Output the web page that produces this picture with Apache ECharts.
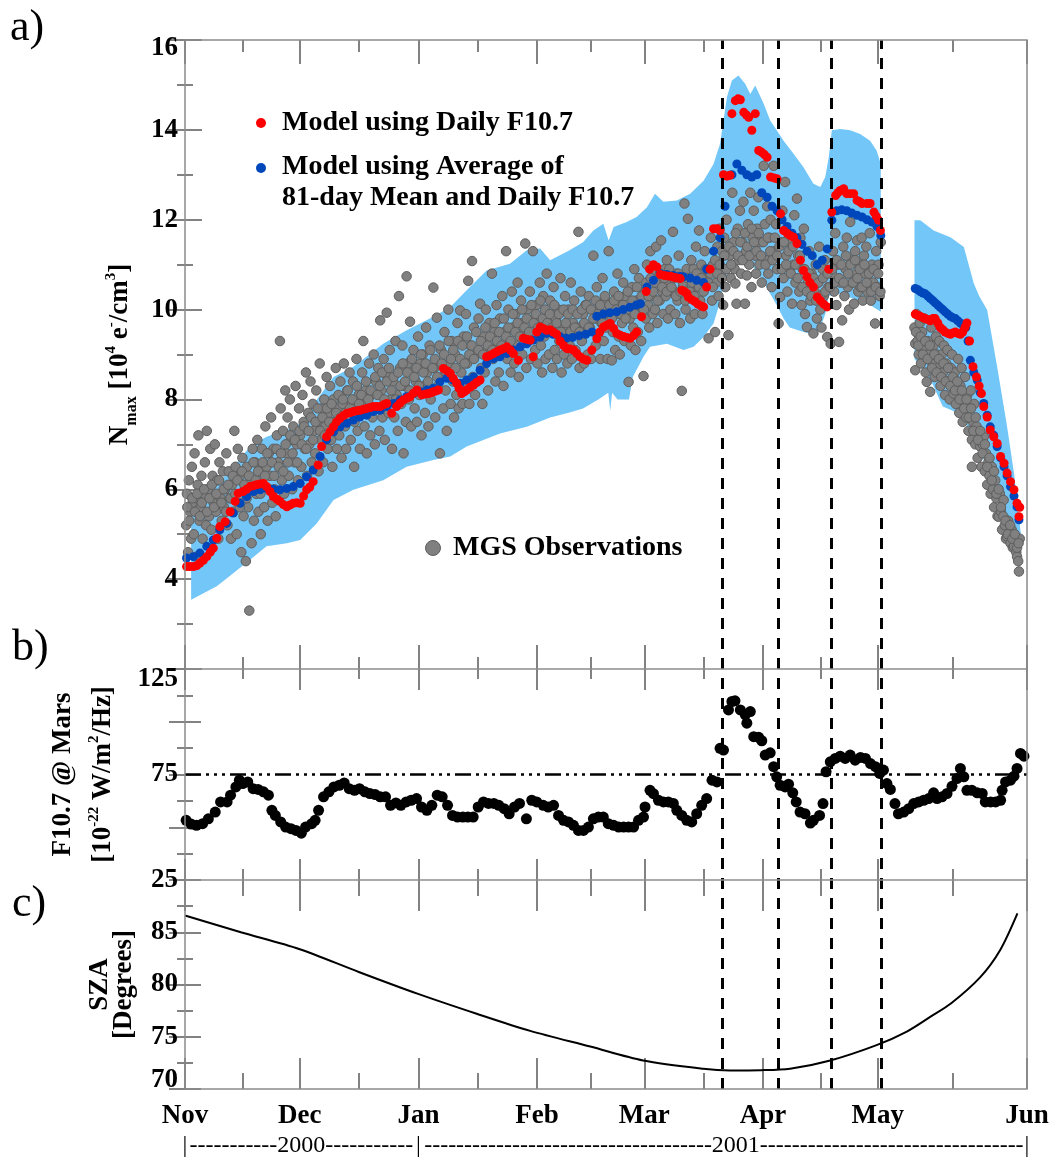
<!DOCTYPE html>
<html><head><meta charset="utf-8">
<script src="https://cdn.jsdelivr.net/npm/echarts@6/dist/echarts.min.js"></script>
<style>html,body{margin:0;padding:0;background:#fff}#c{width:1054px;height:1160px}</style>
</head><body><div id="c"></div>
<script>
// ---------------- DATA (x = days since 2000-11-01) ----------------
const xMax = 220;
const monthNames = ['Nov','Dec','Jan','Feb','Mar','Apr','May','Jun'];
const monthDays = [0,30,61,92,120,151,181,220];
const eventDays = [140.4,155.0,168.9,181.9];
const yearBarDays = [0,30.4,61,140.8,220];
const yearBarText = ['|','-----------2000-----------','|','------------------------------------2001---------------------------------','|'];
const f107Ref = 75;

const bandUpper1 = [[1.6,5.7],[5,5.9],[8.3,6.1],[12.6,6.5],[17,6.95],[21.3,7.17],[26.6,7.32],[30.1,7.47],[34.4,7.99],[38.8,8.5],[44,8.73],[51.8,9.24],[57.9,9.54],[64.9,9.84],[69.3,10.06],[73.6,10.43],[78.8,10.87],[84.9,11.02],[89.3,11.32],[92.8,11.36],[95.4,11.1],[100,11.3],[104,11.5],[106.7,11.76],[109.3,11.91],[110.7,11.54],[112,11.84],[115.4,11.95],[118,12.06],[120.7,12.28],[122.8,12.58],[125,12.4],[128.5,12.43],[132,12.58],[135.5,12.87],[138.1,13.24],[139.8,13.69],[141.6,14.73],[142.9,15.1],[144.6,15.21],[146.4,15.02],[147.7,14.8],[149,14.99],[151.2,14.58],[152.9,14.21],[154.6,13.99],[156.4,13.76],[159,13.47],[161.6,13.17],[164.2,12.8],[166,12.73],[167.3,12.95],[168.2,13.39],[169,13.99],[171.2,14.02],[173.8,13.99],[176.4,13.91],[179,13.76],[180.7,13.54],[181.8,13.24]];
const bandLower1 = [[1.6,3.54],[8.3,3.84],[12.6,4.13],[17,4.43],[21.3,4.73],[26.6,4.8],[30.1,4.87],[34.4,5.24],[38.8,5.76],[44,5.99],[51.8,6.2],[57.9,6.5],[64.9,6.65],[69.3,6.73],[73.6,6.95],[82.3,7.24],[89.3,7.39],[95.4,7.6],[100,7.7],[104,7.8],[108,8.0],[110.6,8.15],[111.1,7.75],[111.6,8.15],[113,8.0],[116,8.0],[117,8.5],[119.8,8.95],[121.5,9.17],[125.9,9.24],[130.3,9.1],[132.9,9.17],[135.5,9.39],[138.1,9.69],[139.4,10.06],[141,10.6],[142.9,11.1],[144.6,11.2],[146.4,11.15],[147.7,11.0],[149,10.9],[151.2,10.6],[154.6,10.1],[156.4,9.8],[158,9.6],[161.6,9.5],[164.2,9.45],[166,9.6],[167.3,9.9],[168.2,10.3],[171,10.35],[176,10.2],[179,10.1],[181.8,9.95]];
const bandUpper2 = [[190.6,11.99],[192.1,11.99],[195.6,11.76],[200,11.61],[203.5,11.39],[206.1,10.58],[207.5,10.3],[209.6,9.99],[212.2,8.73],[214.8,7.39],[216.6,6.36],[217.9,5.39],[218.4,5.0]];
const bandLower2 = [[190.6,8.9],[195,8.4],[198,7.84],[202,7.7],[204.5,7.39],[208.7,6.65],[212.2,5.91],[214.8,5.39],[216.6,5.02],[217.9,4.9],[218.4,5.0]];

const blueModel = [[0.4,4.47],[2.2,4.5],[3.9,4.58],[5.7,4.73],[7.4,4.87],[9.1,5.1],[10.9,5.24],[12.6,5.47],[14.4,5.69],[16.1,5.84],[17.9,5.95],[19.6,5.99],[21.3,6.02],[23.1,6.0],[24.8,5.99],[26.6,6.02],[28.3,6.06],[30.1,6.13],[31.8,6.28],[33.5,6.43],[35.3,6.73],[37,7.1],[38.8,7.28],[40.5,7.39],[42.3,7.47],[44,7.54],[45.7,7.61],[47.5,7.65],[49.2,7.73],[51,7.76],[52.7,7.84],[54.5,7.91],[56.2,7.99],[57.9,8.06],[59.7,8.13],[61.4,8.17],[63.2,8.21],[64.9,8.25],[66.6,8.39],[68.4,8.47],[70.1,8.43],[71.9,8.36],[73.6,8.43],[75.4,8.5],[77.1,8.65],[78.8,8.8],[80.6,8.91],[82.3,8.95],[84.1,9.02],[85.8,9.1],[87.6,9.17],[89.3,9.24],[91,9.32],[92.8,9.39],[94.5,9.47],[96.2,9.45],[97.9,9.4],[99.6,9.36],[101.3,9.38],[103,9.42],[104.7,9.45],[106.4,9.5],[107.6,9.85],[109.3,9.9],[111,9.93],[112.8,9.95],[114.5,10.0],[116.2,10.05],[117.9,10.1],[119,10.13],[120.7,10.5],[122.4,10.65],[124.2,10.8],[125.9,10.78],[127.6,10.76],[129.3,10.74],[130.2,10.73],[132,10.7],[133.7,10.65],[135.5,10.6],[136.3,10.9],[138.1,11.3],[139.8,11.6],[141.1,12.3],[142.9,13.0],[144.2,13.24],[145.5,13.1],[146.8,13.0],[148.1,12.95],[149.4,13.0],[150.7,12.6],[152.1,12.5],[153.4,12.3],[154.7,12.2],[156,12.0],[157.3,11.85],[158.6,11.7],[159.9,11.6],[161.2,11.45],[162.5,11.3],[163.9,11.2],[165.2,11.0],[166.5,11.1],[167.8,11.35],[169,11.99],[170.3,12.2],[171.6,12.22],[172.9,12.2],[174.2,12.15],[175.6,12.1],[176.9,12.06],[178.2,12.0],[179.5,11.95],[180.8,11.85],[181.8,11.65],
[190.8,10.47],[191.5,10.44],[192.1,10.4],[192.8,10.37],[193.4,10.35],[194.1,10.3],[194.7,10.25],[195.4,10.2],[196,10.15],[196.7,10.1],[197.3,10.05],[198,10.0],[198.6,9.95],[199.3,9.9],[200,9.85],[200.6,9.82],[201.3,9.8],[201.9,9.75],[202.6,9.7],[203.3,9.65],[204,9.6],[204.6,9.3],[205.2,8.87],[206.1,8.6],[207,8.43],[207.8,8.15],[208.7,7.91],[209.6,7.65],[210.4,7.39],[211.3,7.2],[212.2,6.95],[213.1,6.7],[214,6.5],[214.8,6.3],[215.7,6.06],[216.6,5.85],[217.4,5.61],[217.9,5.32]];

const redModel = [[0.4,4.28],[1.3,4.28],[2.2,4.28],[3.1,4.3],[3.9,4.36],[4.8,4.42],[5.7,4.5],[6.6,4.6],[7.4,4.69],[8.3,4.91],[9.1,5.17],[10.5,5.28],[11.8,5.5],[13.1,5.73],[13.9,5.91],[15.2,5.95],[16.1,6.0],[17,6.06],[17.9,6.08],[18.7,6.1],[19.6,6.12],[20.5,6.13],[21.3,6.06],[22.2,5.95],[23.1,5.84],[24,5.78],[24.8,5.73],[25.7,5.66],[26.6,5.61],[27.4,5.65],[28.3,5.69],[29.2,5.7],[30.1,5.69],[31,5.85],[31.8,5.99],[32.6,6.05],[33.5,6.17],[34.8,6.54],[35.7,6.95],[37,7.17],[37.9,7.28],[38.8,7.39],[39.6,7.5],[40.5,7.58],[41.4,7.64],[42.3,7.69],[43.2,7.71],[44,7.73],[44.9,7.75],[45.7,7.76],[46.6,7.78],[47.5,7.8],[48.4,7.82],[49.2,7.84],[50.1,7.84],[51,7.84],[51.9,7.88],[52.7,7.91],[54,7.69],[55.3,7.84],[56.2,7.92],[57.1,7.99],[58,8.03],[58.8,8.06],[59.7,8.14],[60.6,8.21],[61.9,8.1],[62.8,8.12],[63.6,8.13],[64.3,8.15],[64.9,8.17],[65.6,8.19],[66.2,8.21],[67.5,8.69],[68.4,8.64],[69.3,8.58],[70.1,8.47],[71,8.36],[71.6,8.25],[72.3,8.13],[73,8.17],[73.6,8.21],[74.5,8.27],[75.4,8.32],[76.2,8.38],[77.1,8.43],[78.8,8.95],[79.7,8.98],[80.6,9.02],[81.5,9.06],[82.3,9.1],[83.2,9.13],[84.1,9.17],[85,9.1],[85.8,9.02],[87.1,8.87],[88.4,9.36],[89.3,9.34],[90.2,9.32],[91,8.95],[91.9,9.5],[92.8,9.61],[93.6,9.58],[94.5,9.54],[95.4,9.55],[96.2,9.5],[97.1,9.45],[98,9.3],[98.9,9.2],[99.8,9.13],[100.6,9.12],[101.5,9.1],[102.4,9.02],[103.2,8.95],[104.1,8.9],[105,8.87],[106.3,9.1],[107.6,9.35],[108.4,9.5],[109.3,9.61],[110.2,9.65],[111.1,9.69],[112,9.58],[112.8,9.47],[113.7,9.43],[114.6,9.4],[115.4,9.38],[116.3,9.36],[117.2,9.42],[118,9.5],[119.3,9.84],[120.5,10.4],[121.4,10.9],[122.4,11.0],[123.3,10.95],[124.2,10.78],[125.1,10.76],[126,10.75],[126.9,10.74],[127.7,10.72],[128.6,10.7],[129.4,10.69],[129.8,10.43],[130.5,10.4],[131.1,10.36],[131.5,10.28],[132.4,10.22],[133.2,10.18],[134,10.12],[134.9,10.08],[135.5,10.06],[136.3,10.5],[137.2,10.9],[138.1,11.8],[139,11.8],[139.8,11.76],[140.7,13.0],[141.6,12.97],[142.4,12.99],[142.9,14.36],[143.8,14.65],[144.5,14.69],[145.1,14.67],[146,14.39],[146.7,14.33],[147.3,14.28],[148.1,13.99],[149,14.36],[149.9,13.54],[150.7,13.5],[151.4,13.45],[152.1,13.39],[153,12.95],[153.9,12.93],[154.7,12.91],[155.6,12.13],[156.4,11.76],[157.3,11.7],[158.1,11.65],[159,11.61],[159.9,11.47],[160.8,11.1],[161.6,10.87],[162.5,10.73],[163.3,10.6],[164.2,10.5],[165.2,10.28],[166,10.2],[166.9,10.12],[167.8,10.06],[168.2,10.9],[169,12.17],[170,12.54],[170.6,12.6],[171.2,12.65],[172.1,12.69],[172.9,12.58],[173.8,12.58],[174.7,12.58],[175.6,12.43],[176.3,12.4],[176.9,12.36],[178.2,12.36],[179,12.36],[180,12.17],[180.6,12.08],[181.2,11.99],[181.7,11.76],
[190.8,9.9],[191.5,9.87],[192.1,9.85],[192.8,9.82],[193.4,9.8],[194.1,9.78],[194.7,9.75],[195.4,9.8],[196,9.8],[196.7,9.7],[197.3,9.6],[198,9.55],[198.6,9.5],[199.3,9.47],[200,9.45],[200.6,9.48],[201.3,9.5],[201.9,9.47],[202.6,9.45],[203.2,9.5],[203.8,9.6],[204.3,9.7],[205,9.3],[205.9,8.73],[206.8,8.5],[207.5,8.3],[208.1,8.13],[208.7,7.84],[209.6,7.61],[210.4,7.32],[211.3,7.17],[212.2,7.02],[213.1,6.73],[214,6.58],[214.8,6.36],[215.7,6.17],[216.6,5.99],[217.4,5.69],[217.9,5.39],[218.1,5.6]];

// MGS observations, group 1 (scattered passes)
const mgsObsA = [
[0.3,5.2],[0.5,5.9],[0.8,4.6],[1,6.2],[1.3,5.5],[1.6,4.9],[1.8,6.5],[2,5.7],[2.3,5.0],[2.5,6.8],[2.8,5.8],[3,4.5],[3.3,6.1],[3.5,7.2],[3.8,5.3],
[4.1,5.6],[4.3,6.3],[4.6,4.9],[4.9,5.9],[5.2,6.6],[5.5,5.2],[5.7,7.3],[6,6.0],[6.3,5.4],[6.6,6.9],[6.9,5.1],[7.2,6.3],[7.5,5.7],[7.8,7.0],
[8.1,5.5],[8.4,6.2],[8.7,4.9],[9,6.6],[9.3,5.8],[9.6,5.3],[9.9,6.4],[10.2,5.6],[10.5,6.0],[10.8,6.8],[11.1,5.2],[11.4,6.4],[11.7,5.8],[12,4.9],
[12.3,6.1],[12.6,5.5],[12.9,7.3],[13.2,6.5],[13.5,5.0],[13.8,6.9],[14.1,5.7],[14.4,6.3],[14.7,4.6],[15,6.7],[15.3,5.4],[15.6,6.0],[15.9,4.4],[16.2,6.5],
[16.5,5.6],[16.8,3.3],[17.1,6.2],[17.4,4.8],[17.7,6.9],[18,5.3],[18.3,6.6],[18.6,5.9],[18.9,7.1],[19.2,5.5],[19.5,6.4],[19.8,5.0],[20.1,6.9],
[20.4,6.1],[20.7,5.6],[21,7.4],[21.3,6.5],[21.6,5.3],[21.9,6.8],[22.2,6.3],[22.5,7.6],[22.8,5.7],[23.1,6.9],[23.4,6.0],[23.7,5.4],[24,7.2],
[24.3,6.6],[24.8,9.3],[25,7.8],[25.3,6.2],[25.6,7.3],[25.9,5.9],[26.2,8.2],[26.5,6.8],[26.8,7.6],[27.1,6.3],[27.4,8.0],[27.7,7.1],[28,6.0],
[28.3,7.4],[28.6,6.6],[28.9,8.3],[29.2,7.0],[29.5,6.2],[29.8,7.8],[30.1,7.2],[30.4,6.5],[30.7,8.1],[31,7.5],[31.3,6.9],[31.6,8.6],[31.9,6.3],
[32.2,7.7],[32.5,7.0],[32.8,8.4],[33.1,6.6],[33.4,7.9],[33.7,7.3],[34,6.8],[34.3,8.2],[34.6,7.5],[34.9,6.4],[35.2,8.8],[35.5,7.1],[35.8,7.8],
[36.1,6.6],[36.4,8.0],[36.7,7.4],[37,8.5],[37.3,6.9],[37.6,7.7],[37.9,8.3],[38.2,7.1],[38.5,6.5],[38.8,8.0],[39.1,7.5],[39.4,8.7],[39.7,6.9],
[40,7.8],[40.3,7.2],[40.6,8.4],[40.9,6.7],[41.2,7.9],[41.5,8.8],[41.8,7.4],[42.1,6.9],[42.4,8.2],[42.7,7.6],[43,8.6],[43.3,7.1],[43.6,7.9],
[43.9,8.4],[44.2,6.5],[44.5,7.7],[44.8,8.9],[45.1,7.3],[45.4,8.1],[45.7,6.9],[46,7.9],[46.3,8.6],[46.6,9.3],[46.9,7.4],[47.2,8.2],[47.5,6.8],[47.8,7.7],
[48.1,8.8],[48.4,7.2],[48.7,8.1],[49,7.6],[49.3,9.0],[49.6,7.0],[49.9,8.4],[50.2,7.8],[50.5,8.7],[50.8,7.3],[51,9.76],[51.3,8.2],[51.6,7.6],[51.9,8.9],
[52.2,7.1],[52.7,9.93],[52.9,8.5],[53.2,7.7],[53.5,9.1],[53.8,8.0],[54.1,6.9],[54.4,8.4],[54.7,7.6],[55,9.3],[55.3,8.1],[55.6,7.3],[55.9,10.3],[56.2,8.7],
[56.5,7.9],[56.8,9.2],[57.1,6.8],[57.4,8.3],[57.7,7.5],[57.9,10.74],[58.2,8.8],[58.5,8.0],[58.8,9.73],[59.1,7.4],[59.4,8.6],[59.7,9.1],[60,7.8],
[60.3,8.4],[60.6,7.5],[60.9,9.4],[61.2,8.1],[61.5,8.8],[61.8,7.2],[62.1,9.0],[62.4,8.3],[62.7,7.7],[63,9.6],[63.3,8.6],[63.6,7.4],[63.9,9.2],
[64.2,8.0],[64.9,10.49],[65.1,8.7],[65.4,7.6],[65.8,9.82],[66.1,8.3],[66.6,6.8],[66.9,9.1],[67.2,8.5],[67.5,7.8],[67.8,9.5],[68.1,8.2],[68.4,7.3],
[68.8,10.0],[69.1,8.8],[69.4,7.9],[69.7,9.3],[70,8.4],[70.3,7.6],[70.6,9.0],[70.9,8.1],[71.2,9.7],[71.5,7.8],[71.9,9.98],[72.2,8.6],
[72.5,7.9],[72.8,9.4],[73.1,8.3],[73.4,9.9],[73.7,8.8],[74,10.64],[74.3,7.9],[74.6,9.2],[75,11.08],[75.2,8.5],[75.5,9.6],[75.8,8.1],
[76.1,9.0],[76.4,8.4],[76.7,9.8],[77.1,10.13],[77.4,8.7],[77.7,7.9],[78,9.4],[78.3,8.6],[78.6,10.0],[78.9,9.1],[79.2,8.2],[79.5,9.7],
[80.2,10.8],[80.5,8.9],[80.8,9.5],[81.1,8.4],[81.4,10.1],[81.7,9.2],[82,8.6],[82.3,9.8],[82.6,9.0],[82.9,10.3],[83.2,8.3],[83.5,9.5],[83.9,11.3],
[84.2,8.9],[84.5,10.0],[84.8,9.3],[85.1,8.6],[85.4,10.4],[85.7,9.6],[86,8.8],[86.3,9.9],[86.6,9.2],[86.9,10.6],[87.2,8.5],[87.5,9.7],
[87.8,10.2],[88.1,9.0],[88.4,9.5],[88.9,11.47],[89.2,8.7],[89.5,10.0],[89.8,9.3],[90.1,10.4],[90.4,8.9],[90.9,11.3],[91.2,9.8],[91.5,9.1],
[91.8,10.1],[92.1,8.8],[92.4,9.6],[92.7,10.6],[93,9.2],[93.3,8.6],[93.6,10.3],[93.9,9.4],[94.2,8.9],[94.5,10.8],[94.8,9.7],[95.1,9.0],
[95.4,10.2],[95.7,9.5],[96,8.7],[96.3,10.5],[96.6,9.1],[96.9,9.8],[97.2,8.9],[97.5,10.0],[97.8,9.3],[98.1,10.7],[98.4,8.6],[98.7,9.6],[99,9.0],
[99.3,10.3],[99.6,9.4],[99.9,8.8],[100.2,10.0],[100.5,9.2],[100.8,10.6],[101.1,8.9],[101.4,9.7],[101.7,10.2],[102,9.1],[102.3,9.6],[102.8,11.73],[103.1,8.7],
[103.4,10.4],[103.7,9.3],[104,9.9],[104.3,8.8],[104.6,10.1],[104.9,9.5],[105.2,9.0],[105.5,10.3],[105.8,9.6],[106.1,8.9],[106.7,11.2],[107,9.8],[107.3,9.2],
[107.6,10.5],[107.9,9.4],[108.2,10.0],[108.5,8.9],[108.8,9.7],[109.1,10.7],[109.4,9.3],[109.7,10.2],[110,9.6],[110.4,8.9],[110.7,11.3],[111,10.0],[111.5,8.87],
[111.8,9.5],[112.1,10.4],[112.4,9.1],[112.7,9.9],[113,10.8],[113.3,9.4],[113.6,9.0],[113.9,10.1],[114.2,9.7],[114.5,10.6],[114.8,9.3],[115.1,10.3],[115.9,8.39],
[116.2,9.8],[116.5,9.2],[116.8,10.5],[117.1,9.6],[117.4,10.9],[117.7,9.1],[118,10.2],[118.3,9.5],[118.6,10.7],[118.9,9.9],[119.2,9.3],[119.8,8.52],
[120.1,10.4],[120.4,9.8],[120.7,11.0],[121,10.1],[121.3,9.6],[121.6,11.3],[121.9,10.3],[122.2,9.9],[122.5,10.8],[122.8,10.0],[123.1,11.4],[123.4,9.7],
[123.7,10.6],[124,10.2],[124.4,11.54],[124.7,10.4],[125,9.9],[125.3,10.9],[125.6,10.3],[125.9,11.1],[126.2,9.8],[126.5,10.6],[126.8,10.0],[127.5,11.73],[127.8,10.4],
[128.1,9.9],[128.4,10.8],[128.7,10.2],[129,11.2],[129.3,9.7],[129.8,8.19],[130.1,10.5],[130.5,12.36],[130.8,10.0],[131.1,10.9],[131.4,12.02],[131.7,10.3],
[132,9.8],[132.3,11.1],[132.6,10.4],[132.9,10.9],[133.2,9.9],[133.5,11.4],[133.8,10.6],[134.3,11.76],[134.6,10.2],[134.9,11.0],[135.2,9.9],[135.5,10.7],
[135.8,11.3],[136.1,10.5],[136.8,9.36],[137.1,10.9],[137.4,11.6],[137.7,10.2],[138,11.0],[138.5,9.5],[138.8,10.6],[139.1,11.4],[139.4,10.3],[139.7,11.8],
[140,10.8],[140.3,11.3],[140.6,10.1],[140.9,11.6],[141.2,10.5],[141.5,12.0],[142,9.43],[142.3,11.2],[142.6,10.7],[143,12.6],[143.3,11.5],[143.6,10.9],[143.8,10.58],[144.1,10.13],
[144.4,11.8],[144.7,11.1],[145,12.2],[145.3,10.8],[145.6,11.5],[145.9,12.4],[146.3,10.13],[146.6,11.3],[146.8,10.76],[147.1,11.9],[147.4,11.0],[147.7,12.6],[148,10.5],[148.3,11.6],
[148.6,12.2],[148.9,11.2],[149.2,10.8],[149.5,11.8],[149.8,12.5],[150.1,11.0],[150.4,11.5],[150.7,10.6],[151.2,13.2],[151.5,11.9],[151.8,11.1],[152.1,12.3],
[152.4,10.8],[152.7,11.6],[153,12.0],[153.3,10.5],[153.8,13.2],[154.1,11.3],[154.4,11.9],[154.7,10.9],[155.1,9.69],[155.5,10.28],[155.8,11.5],[156.1,12.2],
[156.4,10.7],[156.8,12.84],[157.1,11.2],[157.4,10.4],[157.7,11.7],[158,10.9],[158.3,11.5],[158.6,10.13],[158.9,11.0],[159.2,12.1],[159.5,10.6],[159.9,12.47],
[160.2,11.2],[160.5,10.4],[160.8,11.6],[161.1,10.1],[161.4,10.9],[161.7,11.8],[162,9.9],[162.5,9.61],[162.8,10.6],[163.1,11.3],[163.4,10.2],[163.7,10.8],[164.2,9.47],
[164.5,10.4],[164.8,11.0],[165.1,9.8],[165.4,10.6],[165.7,11.4],[166,10.0],[166.3,9.6],[166.6,10.9],[166.9,10.3],[167.2,11.1],[167.8,9.39],[168.1,10.5],
[168.7,9.24],[169,10.8],[169.3,11.3],[169.6,10.4],[169.9,11.7],[170.2,10.1],[170.5,11.0],[170.9,9.28],[171.2,10.6],[171.7,9.76],[172,11.4],[172.3,10.3],
[172.6,10.9],[172.9,11.6],[173.2,10.5],[173.5,10.0],[173.8,11.95],[174.1,11.1],[174.4,10.6],[174.8,10.13],[175.1,11.3],[175.4,10.8],[175.6,11.54],[175.9,10.4],
[176.2,11.0],[176.5,10.5],[176.8,11.6],[177.1,10.2],[177.4,11.2],[177.7,10.8],[178,11.4],[178.3,10.4],[178.6,10.9],[178.9,11.7],[179.2,10.2],[179.5,11.0],
[179.8,10.6],[180.3,9.69],[180.6,11.3],[180.9,10.5],[181.2,11.0],[181.5,10.3],[181.8,11.5],
[190.6,9.6],[190.8,9.24],[190.8,8.65],[191.1,9.9],[191.4,9.3],[191.7,9.0],[192,9.7],[192.3,8.8],[192.6,9.5],[192.9,9.1],[193.2,9.8],[193.5,8.6],[193.8,8.39],
[194.1,9.3],[194.4,9.0],[194.7,8.17],[195,9.6],[195.3,8.8],[195.6,9.2],[195.9,8.5],[196.2,9.4],[196.5,9.0],[196.8,8.7],[197.1,9.3],[197.4,8.3],[197.7,9.0],
[198,8.6],[198.3,9.2],[198.6,8.1],[198.9,8.8],[199.2,9.1],[199.5,8.4],[199.8,8.0],[200.1,8.7],[200.4,9.0],[200.8,8.13],[201.1,8.6],[201.4,7.9],[201.7,8.4],
[202,8.9],[202.3,7.7],[202.6,8.3],[202.9,8.7],[203.2,7.5],[203.5,7.99],[203.8,8.5],[204.1,7.6],[204.4,8.1],[204.7,7.3],[205,7.8],[205.3,8.2],[205.6,7.1],
[205.6,6.5],[205.9,7.5],[206.2,7.9],[206.5,7.0],[206.8,7.4],[207.1,6.7],[207.4,7.2],[207.8,6.95],[208.1,6.5],[208.4,7.0],[208.7,7.17],[209,6.4],[209.3,6.8],
[209.6,6.1],[209.9,6.6],[210.2,6.3],[210.5,5.9],[210.8,6.5],[211.1,6.0],[211.4,5.6],[211.7,6.2],[212,5.8],[212.3,5.4],[212.6,5.39],[212.9,5.9],[213.2,5.5],
[213.5,5.1],[213.9,5.76],[214.2,5.2],[214.5,4.9],[214.8,4.95],[215.1,5.3],[215.4,5.0],[215.7,4.8],[216,5.1],[216.3,4.7],[216.6,4.73],[216.9,4.9],[217.2,4.6],
[217.4,4.5],[217.7,4.4],[217.9,4.17],[218.1,4.9]];

// MGS observations, group 2 (dense core of the cloud)
const mgsObsB = [
[0.6,5.6],[1.1,5.3],[1.9,5.8],[2.6,5.5],[3.2,5.9],[3.9,5.4],[4.4,5.7],[5.0,6.0],[5.8,5.5],[6.4,5.8],[7.0,6.1],[7.6,5.6],[8.2,5.9],[8.9,6.2],[9.5,5.7],
[10.1,6.0],[10.7,5.5],[11.3,6.1],[11.9,5.8],[12.5,6.3],[13.1,5.9],[13.7,6.2],[14.3,5.6],[14.9,6.4],[15.5,6.1],[16.1,5.8],[16.7,6.3],[17.3,6.0],[17.9,6.6],
[18.5,6.2],[19.1,6.4],[19.7,5.9],[20.3,6.6],[20.9,6.3],[21.5,6.8],[22.1,6.0],[22.7,6.6],[23.3,6.3],[23.9,6.9],[24.5,6.5],[25.1,6.8],[25.7,6.4],[26.3,7.0],
[26.9,6.6],[27.5,7.2],[28.1,6.8],[28.7,7.1],[29.3,6.6],[29.9,7.3],[30.5,7.0],[31.1,7.4],[31.7,6.9],[32.3,7.3],[32.9,7.6],[33.5,7.1],[34.1,7.5],[34.7,7.8],
[35.3,7.3],[35.9,7.6],[36.5,7.2],[37.1,7.8],[37.7,7.5],[38.3,7.9],[38.9,7.4],[39.5,7.7],[40.1,8.1],[40.7,7.6],[41.3,8.0],[41.9,7.7],[42.5,8.2],[43.1,7.8],
[43.7,8.0],[44.3,7.5],[44.9,8.3],[45.5,7.9],[46.1,8.1],[46.7,7.7],[47.3,8.4],[47.9,8.0],[48.5,8.2],[49.1,7.8],[49.7,8.5],[50.3,8.1],[50.9,8.3],[51.5,8.6],
[52.1,8.0],[52.7,8.4],[53.3,8.7],[53.9,8.2],[54.5,8.5],[55.1,8.0],[55.7,8.6],[56.3,8.3],[56.9,8.8],[57.5,8.4],[58.1,8.6],[58.7,8.2],[59.3,8.9],[59.9,8.5],
[60.5,8.7],[61.1,8.3],[61.7,9.0],[62.3,8.6],[62.9,8.8],[63.5,8.4],[64.1,9.1],[64.7,8.7],[65.3,8.9],[65.9,8.5],[66.5,9.2],[67.1,8.8],[67.7,9.0],[68.3,8.6],
[68.9,9.3],[69.5,8.9],[70.1,9.1],[70.7,8.7],[71.3,9.3],[71.9,8.9],[72.5,9.2],[73.1,8.8],[73.7,9.4],[74.3,9.0],[74.9,9.2],[75.5,8.9],[76.1,9.5],[76.7,9.1],
[77.3,9.3],[77.9,9.0],[78.5,9.6],[79.1,9.2],[79.7,9.4],[80.3,9.1],[80.9,9.7],[81.5,9.3],[82.1,9.5],[82.7,9.2],[83.3,9.8],[83.9,9.4],[84.5,9.6],[85.1,9.3],
[85.7,9.9],[86.3,9.5],[86.9,9.7],[87.5,9.4],[88.1,10.0],[88.7,9.6],[89.3,9.8],[89.9,9.5],[90.5,10.1],[91.1,9.7],[91.7,9.9],[92.3,9.6],[92.9,10.2],[93.5,9.8],
[94.1,10.0],[94.7,9.7],[95.3,9.9],[95.9,9.6],[96.5,10.1],[97.1,9.7],[97.7,9.9],[98.3,9.5],[98.9,10.0],[99.5,9.7],[100.1,9.9],[100.7,9.5],[101.3,10.0],[101.9,9.6],
[102.5,9.9],[103.1,9.5],[103.7,10.0],[104.3,9.7],[104.9,10.1],[105.5,9.6],[106.1,10.0],[106.7,9.8],[107.3,10.2],[107.9,9.9],[108.5,10.1],[109.1,9.7],[109.7,10.3],
[110.3,9.9],[110.9,10.1],[111.5,9.8],[112.1,10.2],[112.7,10.0],[113.3,10.3],[113.9,9.9],[114.5,10.1],[115.1,9.8],[115.7,10.4],[116.3,10.0],[116.9,10.2],[117.5,9.9],
[118.1,10.5],[118.7,10.1],[119.3,10.3],[119.9,10.0],[120.5,10.6],[121.1,10.3],[121.7,10.7],[122.3,10.4],[122.9,10.6],[123.5,10.2],[124.1,10.8],[124.7,10.5],
[125.3,10.7],[125.9,10.4],[126.5,10.9],[127.1,10.5],[127.7,10.7],[128.3,10.3],[128.9,10.8],[129.5,10.4],[130.1,10.6],[130.7,10.2],[131.3,10.7],[131.9,10.4],
[132.5,10.6],[133.1,10.3],[133.7,10.8],[134.3,10.5],[134.9,10.7],[135.5,10.4],[136.1,10.9],[136.7,10.6],[137.3,10.8],[137.9,10.5],[138.5,11.1],[139.1,10.8],
[139.7,11.0],[140.3,10.7],[140.9,11.2],[141.5,10.9],[142.1,11.4],[142.7,11.0],[143.3,11.3],[143.9,11.7],[144.5,11.2],[145.1,11.5],[145.7,11.1],[146.3,11.7],
[146.9,11.4],[147.5,11.2],[148.1,11.8],[148.7,11.5],[149.3,11.3],[149.9,11.7],[150.5,11.2],[151.1,11.5],[151.7,11.0],[152.3,11.6],[152.9,11.3],[153.5,11.1],
[154.1,11.6],[154.7,11.2],[155.3,11.4],[155.9,10.9],[156.5,11.5],[157.1,11.0],[157.7,11.3],[158.3,10.8],[158.9,11.4],[159.5,11.0],[160.1,10.7],[160.7,11.2],
[161.3,10.5],[161.9,10.9],[162.5,10.4],[163.1,10.8],[163.7,10.3],[164.3,10.7],[164.9,10.2],[165.5,10.6],[166.1,10.3],[166.7,10.7],[167.3,10.4],[167.9,10.8],
[168.5,10.5],[169.1,10.9],[169.7,10.6],[170.3,11.1],[170.9,10.7],[171.5,11.0],[172.1,10.6],[172.7,11.2],[173.3,10.8],[173.9,11.0],[174.5,10.6],[175.1,11.1],
[175.7,10.7],[176.3,10.9],[176.9,10.5],[177.5,11.0],[178.1,10.6],[178.7,10.8],[179.3,10.4],[179.9,10.9],[180.5,10.5],[181.1,10.8],[181.7,10.4],
[191.0,9.5],[191.6,9.2],[192.2,9.4],[192.8,9.0],[193.4,9.3],[194.0,8.9],[194.6,9.2],[195.2,8.7],[195.8,9.0],[196.4,8.6],[197.0,8.9],[197.6,8.5],[198.2,8.8],
[198.8,8.4],[199.4,8.7],[200.0,8.3],[200.6,8.5],[201.2,8.2],[201.8,8.4],[202.4,8.0],[203.0,8.2],[203.6,7.8],[204.2,8.0],[204.8,7.6],[205.4,7.8],[206.0,7.3],
[206.6,7.6],[207.2,7.1],[207.8,7.3],[208.4,6.8],[209.0,7.0],[209.6,6.5],[210.2,6.7],[210.8,6.2],[211.4,6.4],[212.0,5.9],[212.6,6.0],[213.2,5.6],[213.8,5.4],
[214.4,5.3],[215.0,5.0],[215.6,5.2],[216.2,4.9],[216.8,5.0],[217.4,4.7],[217.8,4.8]];

const f107 = [[0.3,53.3],[1.6,51.5],[3,50.9],[4.6,51.7],[6.1,54],[7.9,57.2],[9.3,62],[11,62],[11.9,65.2],[13.3,69.1],[14.2,72.3],[15.1,70.7],[16.4,71.5],[17.8,68.3],[19.1,67.9],[20.5,66.8],[21.8,65.2],[22.7,58],[23.6,55.6],[25,52.5],[26.3,50.1],[27.7,49.3],[29,48.5],[30.4,47.2],[31.5,50.1],[33.1,51.7],[34,53.3],[34.9,58],[36.2,64.4],[37.6,66.8],[38.9,69.1],[40.3,69.9],[41.6,71],[42.9,68.3],[44.3,67.5],[45.6,68.3],[47,66.8],[48.3,66],[49.7,65.5],[51,64.4],[52.4,64.4],[53.7,60.4],[55.1,61.5],[56.4,60.4],[57.8,62],[59.1,62.8],[60.5,63.6],[61.8,59.6],[63.2,58],[64.5,60.4],[65.9,65.2],[67.2,64.4],[68.6,60.4],[69.9,55.6],[71.2,54.8],[72.6,54.8],[73.9,54.8],[75.3,54.8],[76.6,59.6],[78,62],[79.3,61.3],[80.7,61.3],[82,60.4],[83.4,58.8],[84.7,56.4],[86.1,59.6],[87.4,61.3],[89.2,54],[90.6,62.8],[91.9,62],[93.6,60.4],[94.9,59.6],[96.3,60.4],[97.6,55.6],[98.9,53.3],[100.2,52.5],[101.5,50.9],[102.8,48.5],[104.1,48.5],[105.4,50.1],[106.7,54],[108,54.8],[109.3,54.8],[110.6,51.7],[112,50.9],[113.3,50.1],[114.6,50.1],[115.9,50.1],[117.2,50.1],[118.5,53.3],[119.8,54.8],[120.2,59.6],[121.5,67.5],[122.4,65.9],[123.7,62.8],[125,62],[126.3,62],[127.6,61.3],[128.5,58],[129.8,55.6],[131.1,53.3],[132.4,52.5],[133.7,56.4],[135,60.4],[136.3,63.6],[137.7,72.3],[139,71.5],[139.8,87.4],[140.7,86.6],[142,105.6],[142.9,109.6],[143.7,109.9],[145.1,105.6],[146.4,103.3],[146.8,99.3],[147.7,104.8],[148.6,92.9],[149.9,92.6],[150.7,91],[151.6,84.2],[152.9,85.3],[153.8,78.7],[154.6,73.9],[155.5,69.9],[156.8,69.1],[157.7,70.4],[158.8,66.3],[159.7,62],[160.7,57.2],[162,56.4],[163.4,52],[164.2,53.3],[165.8,55.6],[166.7,61.2],[167.5,76.3],[168.6,81],[169.9,82.6],[171.2,83.7],[172.5,82.6],[173.8,84.2],[175.1,81.8],[176.5,83.1],[177.8,82.6],[179.1,80.2],[180.4,78.7],[181.5,75.5],[182.5,77.1],[183.4,70.7],[184.3,67.9],[185.5,61.2],[186.4,56.4],[187.8,57.2],[189.1,58.8],[190.4,61.2],[191.7,62],[193,62.8],[194.3,63.6],[195.6,66.3],[196.5,63.6],[197.8,64.4],[199.1,66],[200.4,69.4],[201.7,73.1],[202.6,77.9],[203.5,73.9],[204.3,67.5],[205.6,67.5],[207,66.3],[208.3,66],[209.1,62],[210.5,62],[211.8,62],[213.1,62.8],[213.5,67.5],[214.4,71.5],[215.7,72.3],[216.6,74.2],[217.4,77.9],[218.3,85],[219.2,83.7]];

const szaDays = [0,14.6,29.8,45.4,60.9,76.2,90.2,105.9,119.7,135.4,142.4,150.5,158.1,168.6,180.7,188.6,194.7,200.2,207.8,213,217.5];
const szaVals = [86.6,85.0,83.4,81.2,79.1,77.2,75.56,74.06,72.73,71.94,71.78,71.8,71.94,72.73,74.2,75.5,76.9,78.2,80.7,83.3,86.8];

// ---------------- STYLE / LAYOUT ----------------
const FF = 'Liberation Serif';
const LEFT = 185, RIGHT = 27;
const grids = [
  {top:40, height:629},   // a
  {top:669, height:211},  // b
  {top:880, height:209},  // c
  {top:40, height:1049}   // overlay for event lines
];
const tickCol = '#5a5a5a';
const minorDays = monthDays.slice(0,-1).map((d,i)=>(d+monthDays[i+1])/2);
const tickLen = [ {top:[24,12], bottom:[24,12]}, {top:[21,10], bottom:[21,11]}, {top:[31,16], bottom:[31,16]} ];

const xAxes = [];
function xAx(g, pos, vals, len, extra){
  xAxes.push(Object.assign({
    type:'value', gridIndex:g, position:pos, min:0, max:xMax,
    axisLine:{show:false, onZero:false}, splitLine:{show:false},
    axisTick:{show:true, inside:true, length:len, customValues:vals, lineStyle:{color:tickCol, width:1.5}},
    axisLabel:{show:false}
  }, extra||{}));
  return xAxes.length-1;
}
const xIdx = [];
for (let g=0; g<3; g++){
  const isC = g===2;
  const bm = xAx(g,'bottom',monthDays,tickLen[g].bottom[0], isC ? {axisLabel:{show:true, customValues:monthDays, margin:14,
      formatter:(v)=>monthNames[monthDays.indexOf(v)], fontFamily:FF, fontSize:27, fontWeight:'bold', color:'#000'}} : null);
  xAx(g,'bottom',minorDays,tickLen[g].bottom[1]);
  xAx(g,'top',monthDays,tickLen[g].top[0]);
  xAx(g,'top',minorDays,tickLen[g].top[1]);
  xIdx.push(bm);
}
// year bar
xAxes.push({type:'value', gridIndex:2, position:'bottom', min:0, max:xMax, axisLine:{show:false,onZero:false}, axisTick:{show:false}, splitLine:{show:false},
  axisLabel:{show:true, customValues:yearBarDays, margin:45, formatter:(v)=>yearBarText[yearBarDays.indexOf(v)], fontFamily:FF, fontSize:24, color:'#000'}});
const xOverlay = xAxes.length; xAxes.push({type:'value', gridIndex:3, min:0, max:xMax, show:false});

const yAxes = [];
const labelBase = {fontFamily:FF, fontSize:27, fontWeight:'bold', color:'#000'};
const rich = {
  dn:{fontFamily:FF, fontSize:27, fontWeight:'bold', color:'#000', padding:[17,0,0,0]},
  dn2:{fontFamily:FF, fontSize:27, fontWeight:'bold', color:'#000', padding:[20,0,0,0]},
  up:{fontFamily:FF, fontSize:27, fontWeight:'bold', color:'#000', padding:[0,0,18,0]}
};
const nameRich = {
  b:{fontFamily:FF, fontSize:27, fontWeight:'bold', color:'#000', lineHeight:40},
  sup:{fontFamily:FF, fontSize:15, fontWeight:'bold', color:'#000', verticalAlign:'top', lineHeight:40, padding:[4,0,0,0]},
  sub:{fontFamily:FF, fontSize:16, fontWeight:'bold', color:'#000', verticalAlign:'bottom', lineHeight:30, padding:[0,0,0,0]}
};
function yAx(g, pos, min, max, interval, majLen, minLen, fmt, name, nameGap, nameLH){
  const ax = {type:'value', gridIndex:g, position:pos, min:min, max:max, interval:interval,
    axisLine:{show:false}, splitLine:{show:false}, minorSplitLine:{show:false},
    axisTick:{show:true, inside:true, length:majLen, lineStyle:{color:tickCol, width:1.5}},
    minorTick:{show:true, splitNumber:2, length:minLen, lineStyle:{color:tickCol, width:1.5}},
    axisLabel:{show:!!fmt, margin:7, formatter:fmt, rich:rich, ...labelBase}};
  if (name){
    Object.assign(ax, {name:name, nameLocation:'middle', nameRotate:90, nameGap:nameGap,
      nameTextStyle:{fontFamily:FF, fontSize:27, fontWeight:'bold', color:'#000', lineHeight:nameLH, rich:nameRich}});
  }
  yAxes.push(ax); return yAxes.length-1;
}
const yA = yAx(0,'left',2,16,2,17,8,(v)=> v===2?'':(v===16?'{dn|16}':String(v)),
  '{b|N}{sub|max}{b| [10}{sup|4}{b| e}{sup|-}{b|/cm}{sup|3}{b|]}', 41, 40);
yAx(0,'right',2,16,2,17,8,null);
const yB = yAx(1,'left',25,125,25,16,8,(v)=> v===125?'{dn2|125}':((v===25||v===75)?String(v):''),
  '{b|F10.7 @ Mars}\n{b|[10}{sup|-22}{b| W/m}{sup|2}{b|/Hz]}', 62, 40);
yAx(1,'right',25,125,25,16,8,null);
const yC = yAx(2,'left',70,90,5,16,8,(v)=> v===90?'':(v===70?'{up|70}':String(v)),
  'SZA\n[Degrees]', 49, 24);
yAx(2,'right',70,90,5,16,8,null);
const yOverlay = yAxes.length; yAxes.push({type:'value', gridIndex:3, min:0, max:1, show:false});

const bandSegs = [{up:bandUpper1, lo:bandLower1},{up:bandUpper2, lo:bandLower2}];
const mgsObs = mgsObsA.concat(mgsObsB);

const option = {
  animation:false,
  backgroundColor:'#fff',
  grid: grids.map(g=>({left:LEFT, right:RIGHT, top:g.top, height:g.height, show:false, containLabel:false, outerBoundsMode:'none'})),
  xAxis: xAxes,
  yAxis: yAxes,
  graphic: [
    {type:'rect', shape:{x:LEFT, y:40, width:1054-LEFT-RIGHT, height:1049}, style:{fill:'none', stroke:'#8c8c8c', lineWidth:1.5}, z:20, silent:true},
    {type:'line', shape:{x1:LEFT, y1:669, x2:1054-RIGHT, y2:669}, style:{stroke:'#8c8c8c', lineWidth:1.5}, z:20, silent:true},
    {type:'line', shape:{x1:LEFT, y1:880, x2:1054-RIGHT, y2:880}, style:{stroke:'#8c8c8c', lineWidth:1.5}, z:20, silent:true},
    {type:'text', x:10, y:28, style:{text:'a)', fontFamily:FF, fontSize:44, fill:'#000', verticalAlign:'middle'}},
    {type:'text', x:12, y:648, style:{text:'b)', fontFamily:FF, fontSize:44, fill:'#000', verticalAlign:'middle'}},
    {type:'text', x:12, y:904, style:{text:'c)', fontFamily:FF, fontSize:44, fill:'#000', verticalAlign:'middle'}},
    {type:'circle', shape:{cx:261, cy:123, r:5}, style:{fill:'#ff0000'}},
    {type:'text', x:282, y:123, style:{text:'Model using Daily F10.7', fontFamily:FF, fontSize:28, fontWeight:'bold', fill:'#000', verticalAlign:'middle'}},
    {type:'circle', shape:{cx:261, cy:168, r:5}, style:{fill:'#0047bb'}},
    {type:'text', x:282, y:167, style:{text:'Model using Average of', fontFamily:FF, fontSize:28, fontWeight:'bold', fill:'#000', verticalAlign:'middle'}},
    {type:'text', x:282, y:198, style:{text:'81-day Mean and Daily F10.7', fontFamily:FF, fontSize:28, fontWeight:'bold', fill:'#000', verticalAlign:'middle'}},
    {type:'circle', shape:{cx:433, cy:548, r:7.5}, style:{fill:'#808080', stroke:'#5e5e5e', lineWidth:1}},
    {type:'text', x:453, y:548, style:{text:'MGS Observations', fontFamily:FF, fontSize:28, fontWeight:'bold', fill:'#000', verticalAlign:'middle'}}
  ],
  series: [
    {type:'custom', xAxisIndex:xIdx[0], yAxisIndex:yA, z:1, silent:true, data:[[0,5],[1,5]],
      renderItem:(params, api)=>{
        const s = bandSegs[params.dataIndex];
        const pts = s.up.map(p=>api.coord(p)).concat(s.lo.slice().reverse().map(p=>api.coord(p)));
        return {type:'polygon', shape:{points:pts}, style:{fill:'#72c6f8'}};
      }},
    {type:'scatter', xAxisIndex:xIdx[0], yAxisIndex:yA, z:2, data:mgsObs, symbolSize:9.5,
      itemStyle:{color:'#808080', borderColor:'#5e5e5e', borderWidth:1, opacity:1}},
    {type:'scatter', xAxisIndex:xIdx[0], yAxisIndex:yA, z:3, data:blueModel, symbolSize:9,
      itemStyle:{color:'#0047bb', opacity:1}},
    {type:'scatter', xAxisIndex:xIdx[0], yAxisIndex:yA, z:4, data:redModel, symbolSize:9,
      itemStyle:{color:'#ff0000', opacity:1}},
    {type:'scatter', xAxisIndex:xIdx[1], yAxisIndex:yB, z:3, data:f107, symbolSize:11,
      itemStyle:{color:'#000', opacity:1},
      markLine:{silent:true, symbol:['none','none'], label:{show:false}, animation:false,
        lineStyle:{color:'#000', width:2.5, type:[16,5,3,5,3,5,3,5]}, data:[{yAxis:f107Ref}]}},
    {type:'line', xAxisIndex:xIdx[2], yAxisIndex:yC, z:3, showSymbol:false, symbol:'none', smooth:0.3,
      data: szaDays.map((d,i)=>[d, szaVals[i]]), lineStyle:{color:'#000', width:2}},
    {type:'scatter', xAxisIndex:xOverlay, yAxisIndex:yOverlay, z:10, data:[[0,0]], symbolSize:0,
      markLine:{silent:true, symbol:['none','none'], label:{show:false}, animation:false,
        lineStyle:{color:'#000', width:3, type:[11,9]}, data: eventDays.map(d=>({xAxis:d}))}}
  ]
};
const chart = echarts.init(document.getElementById('c'));
chart.setOption(option);
</script></body></html>
